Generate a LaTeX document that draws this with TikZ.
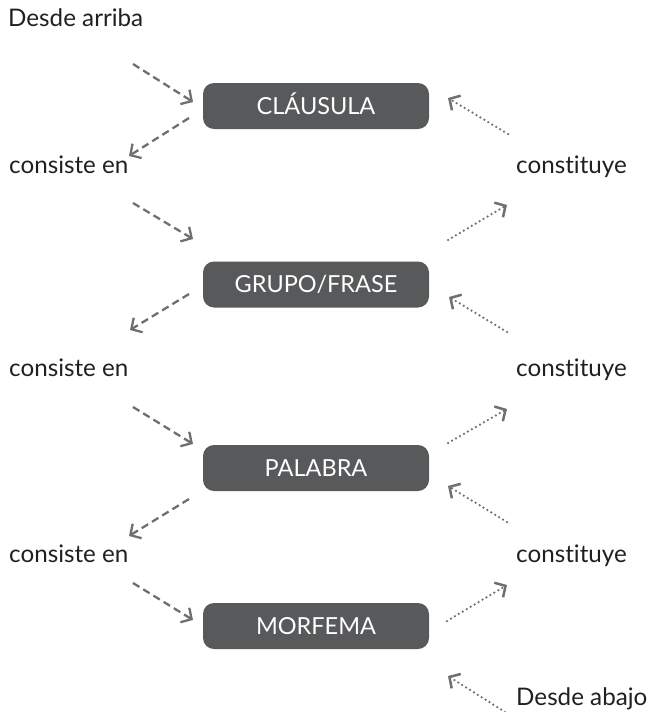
\documentclass[tikz,border=0pt]{standalone}
\usepackage{fontspec}
\setmainfont{Lato}[Ligatures=NoCommon]
\usetikzlibrary{arrows.meta}
\definecolor{boxgray}{HTML}{58595B}
\definecolor{arrowgray}{HTML}{6F6F72}
\definecolor{ink}{HTML}{231F20}
\begin{document}
\begin{tikzpicture}[x=1pt,y=-1pt,
  level/.style={fill=boxgray, rounded corners=11pt, minimum width=226pt,
    minimum height=46pt, inner sep=0pt, text=white,
    text height=16.8pt, text depth=0pt, font=\fontsize{23.5}{28}\selectfont},
  lbl/.style={anchor=base west, inner sep=0pt, text=ink,
    font=\fontsize{24.2}{29}\selectfont},
  barb/.style={-{Straight Barb[length=8pt,width=17pt]}},
  topdown/.style={barb, draw=arrowgray, line width=2.3pt,
    dash pattern=on 7.5pt off 4.5pt},
  bottomup/.style={barb, draw=arrowgray, line width=2.5pt, line cap=round,
    dash pattern=on 0pt off 4.6pt},
]
\useasboundingbox (0,0) rectangle (652,712);

% the four levels
\node[level] (clausula) at (316,106)   {CLÁUSULA};
\node[level] (grupo)    at (316,284.5) {GRUPO/FRASE};
\node[level] (palabra)  at (316,468)   {PALABRA};
\node[level] (morfema)  at (316,626)   {MORFEMA};

% labels
\node[lbl] (arriba) at (8,26)    {Desde arriba};
\node[lbl] (cons1)  at (9,173)   {consiste en};
\node[lbl] (cons2)  at (9,376)   {consiste en};
\node[lbl] (cons3)  at (9,562)   {consiste en};
\node[lbl] (const1) at (516,173) {constituye};
\node[lbl] (const2) at (516,376) {constituye};
\node[lbl] (const3) at (516,562) {constituye};
\node[lbl] (abajo)  at (516,705) {Desde abajo};

% end points of the top-down (dashed) arrows
\coordinate (d1a) at (133,64);  \coordinate (d1b) at (193,102);
\coordinate (d2a) at (189,118); \coordinate (d2b) at (129,156);
\coordinate (d3a) at (133,203); \coordinate (d3b) at (193,239);
\coordinate (d4a) at (189,294); \coordinate (d4b) at (130,330);
\coordinate (d5a) at (133,407); \coordinate (d5b) at (193,444);
\coordinate (d6a) at (189,499); \coordinate (d6b) at (129,536);
\coordinate (d7a) at (133,583); \coordinate (d7b) at (193,620);

% end points of the bottom-up (dotted) arrows
\coordinate (u1a) at (508,134); \coordinate (u1b) at (448,98);
\coordinate (u2a) at (448,240); \coordinate (u2b) at (507,205);
\coordinate (u3a) at (507,332); \coordinate (u3b) at (449,297);
\coordinate (u4a) at (448,443); \coordinate (u4b) at (507,409);
\coordinate (u5a) at (507,522); \coordinate (u5b) at (448,486);
\coordinate (u6a) at (447,621); \coordinate (u6b) at (507,585);
\coordinate (u7a) at (505,712); \coordinate (u7b) at (448,676);

\foreach \i in {1,...,7} {
  \draw[topdown]  (d\i a) -- (d\i b);
  \draw[bottomup] (u\i a) -- (u\i b);
}
\end{tikzpicture}
\end{document}
